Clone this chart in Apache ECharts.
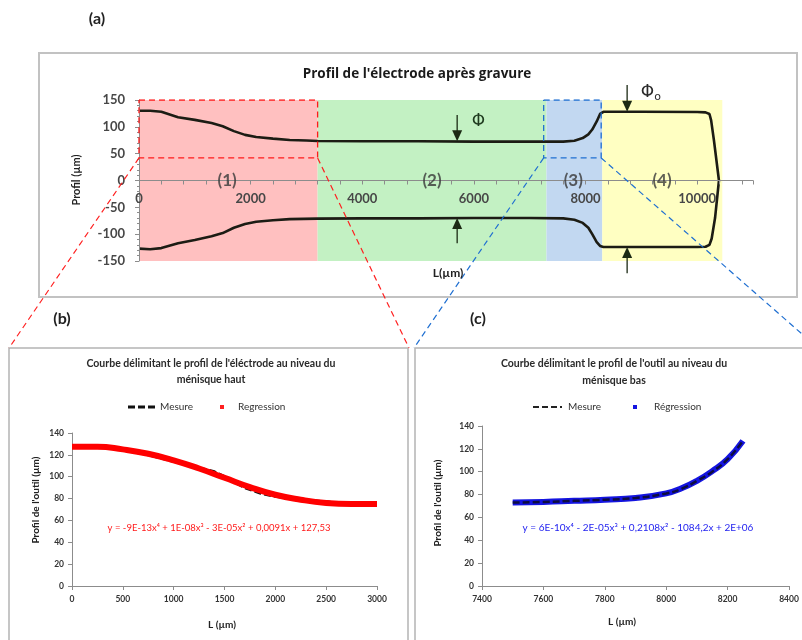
<!DOCTYPE html>
<html>
<head>
<meta charset="utf-8">
<script src="https://cdn.jsdelivr.net/npm/echarts@6/dist/echarts.min.js"></script>
<style>
html, body { margin: 0; background: #fff; }
#main { width: 802px; height: 640px; }
</style>
</head>
<body>
<div id="main"></div>
<script>
var FONT = 'Lato, "Open Sans", sans-serif';

// (a) profil complet de l'électrode, L (µm) / profil (µm)
var profilHaut = [[0,130],[200,130],[400,128],[700,118],[1000,113],[1300,107],[1500,101],[1700,92],[1900,85],
  [2100,81],[2400,78],[2700,75.5],[3000,74.5],[3200,73.5],[4000,73],[5000,73],[6000,72.5],[7000,72.5],[7600,72.5],
  [7800,74],[7950,79],[8050,86],[8120,95],[8200,110],[8260,124],[8320,128],[9000,128],[10000,127.5],
  [10150,127],[10220,124],[10250,112],[10300,75],[10390,0]];
var profilBas = [[0,-127],[200,-128],[400,-126],[700,-117],[1000,-111],[1300,-104],[1500,-98],[1700,-88],[1900,-81],
  [2100,-77],[2400,-74],[2700,-72],[3200,-71],[4000,-70.5],[5000,-70.5],[6000,-70],[7000,-70],[7600,-70.5],
  [7800,-73],[7950,-79],[8050,-88],[8120,-100],[8200,-115],[8260,-122],[8320,-124],[9000,-124],[10000,-124],
  [10150,-123.5],[10220,-120],[10260,-108],[10320,-70],[10390,0]];
var zonesDebut = [0, 3200, 7300, 8300];
var zonesFin = [3200, 7300, 8300, 10450];
var zonesNoms = ['(1)', '(2)', '(3)', '(4)'];
var zonesNomsX = [1580, 5250, 7780, 9370];
var cadreHaut = [[0,150],[3200,150],[3200,42],[0,42],[0,150]];
var cadreBas = [[7250,150],[8280,150],[8280,42],[7250,42],[7250,150]];
// flèches Φ et Φo : [L, départ, arrivée]
var fleches = [[5700,122,73],[5700,-117,-70],[8745,178,128],[8745,-173,-124]];

// (b) ménisque haut
var mesureB = [[0,127],[300,127.5],[500,125],[750,120],[1000,114],[1250,108],[1400,104.5],[1500,100],
  [1700,90],[1850,85],[2000,82],[2250,79],[2500,77],[2750,75],[3000,74.5]];
var regressionB = [[0,127.5],[250,127.5],[500,125],[750,121],[1000,115],[1250,107.5],[1500,99],
  [1750,90.5],[2000,83.5],[2250,79],[2500,76],[2750,75],[3000,75]];

// (c) ménisque bas
var mesureC = [[7500,73],[7600,73.5],[7700,74.5],[7800,75.5],[7900,77],[8000,81],[8050,85],
  [8100,92],[8150,100],[8200,111],[8250,127]];
var regressionC = [[7500,73],[7600,73.5],[7700,74.5],[7800,75.5],[7900,77],[8000,81],[8050,85.5],
  [8100,92],[8150,100.5],[8200,111],[8250,127]];

var zoneCouleurs = ['#ffc0c0', '#c3f1c3', '#c2d8f1', '#ffffc2'];

var chart = echarts.init(document.getElementById('main'));

function brut(v) { return String(v); }

function axeX(grid, min, max, interval, extra) {
  var ax = {
    gridIndex: grid, type: 'value', min: min, max: max, interval: interval,
    axisLine: { show: true, onZero: false, lineStyle: { color: '#8c8c8c' } },
    axisTick: { show: true, length: 4, lineStyle: { color: '#8c8c8c' } },
    axisLabel: { fontSize: 8.5, margin: 9, color: '#333', fontWeight: 'bold', fontFamily: FONT, formatter: brut },
    splitLine: { show: false }
  };
  return echarts.util.merge(ax, extra || {}, true);
}
function axeY(grid, min, max, interval, extra) {
  var ax = {
    gridIndex: grid, type: 'value', min: min, max: max, interval: interval,
    axisLine: { show: true, onZero: false, lineStyle: { color: '#8c8c8c' } },
    axisTick: { show: true, length: 4, lineStyle: { color: '#8c8c8c' } },
    axisLabel: { fontSize: 8.5, margin: 8, color: '#333', fontWeight: 'bold', fontFamily: FONT, formatter: brut },
    splitLine: { show: false }
  };
  return echarts.util.merge(ax, extra || {}, true);
}

var zonesArea = zonesDebut.map(function (d, i) {
  return [{ coord: [d, -150], itemStyle: { color: zoneCouleurs[i] } }, { coord: [zonesFin[i], 150] }];
});

chart.setOption({
  animation: false,
  grid: [
    { left: 139, top: 100, width: 614, height: 161 },
    { left: 72, top: 433, width: 305, height: 153 },
    { left: 482, top: 426, width: 307, height: 160 }
  ],
  xAxis: [
    axeX(0, 0, 11000, 400, {
      offset: -80.5, z: 5,
      axisLabel: {
        fontSize: 13, margin: 12, color: '#474747',
        formatter: function (v) { return (v % 2000 === 0 && v <= 10000) ? String(v) : ''; }
      }
    }),
    axeX(1, 0, 3000, 500),
    axeX(2, 7400, 8400, 200)
  ],
  yAxis: [
    axeY(0, -150, 150, 50, {
      z: 5,
      axisLabel: { fontSize: 13, margin: 14, color: '#474747' },
      minorTick: { show: true, splitNumber: 5, length: 2, lineStyle: { color: '#8c8c8c' } }
    }),
    axeY(1, 0, 140, 20),
    axeY(2, 0, 140, 20)
  ],
  series: [
    {
      name: 'Profil haut', type: 'line', xAxisIndex: 0, yAxisIndex: 0, data: profilHaut,
      symbol: 'none', lineStyle: { color: '#1c1c14', width: 2.6 }, z: 3,
      markArea: { silent: true, data: zonesArea }
    },
    {
      name: 'Profil bas', type: 'line', xAxisIndex: 0, yAxisIndex: 0, data: profilBas,
      symbol: 'none', lineStyle: { color: '#1c1c14', width: 2.6 }, z: 3
    },
    {
      name: 'Cadre (b)', type: 'line', xAxisIndex: 0, yAxisIndex: 0, data: cadreHaut, symbol: 'none',
      lineStyle: { color: '#ff1a1a', width: 1.3, type: [6, 4] }, z: 6
    },
    {
      name: 'Cadre (c)', type: 'line', xAxisIndex: 0, yAxisIndex: 0, data: cadreBas, symbol: 'none',
      lineStyle: { color: '#1f6fd1', width: 1.3, type: [6, 4] }, z: 6
    },
    {
      name: 'Zones', type: 'scatter', xAxisIndex: 0, yAxisIndex: 0, symbolSize: 1, z: 7,
      itemStyle: { color: 'transparent' },
      data: zonesNoms.map(function (n, i) { return { name: n, value: [zonesNomsX[i], 0] }; }),
      label: {
        show: true, position: 'inside', formatter: '{b}', fontSize: 17, fontWeight: 'bold',
        color: '#383838', fontFamily: FONT
      }
    },
    {
      name: 'Mesure', type: 'line', xAxisIndex: 1, yAxisIndex: 1, data: mesureB, symbol: 'none',
      lineStyle: { color: '#111', width: 3, type: [7, 3] }, z: 2
    },
    {
      name: 'Regression', type: 'line', xAxisIndex: 1, yAxisIndex: 1, data: regressionB, symbol: 'none',
      smooth: true, lineStyle: { color: '#ff0000', width: 6 }, z: 3
    },
    {
      name: 'Régression', type: 'line', xAxisIndex: 2, yAxisIndex: 2, data: regressionC, symbol: 'none',
      smooth: true, lineStyle: { color: '#1414e0', width: 6 }, z: 2
    },
    {
      name: 'Mesure', type: 'line', xAxisIndex: 2, yAxisIndex: 2, data: mesureC, symbol: 'none',
      smooth: true, lineStyle: { color: '#0d0d40', width: 2.5, type: [7, 3] }, z: 3
    }
  ]
});

function px(p) { return chart.convertToPixel({ xAxisIndex: 0, yAxisIndex: 0 }, p); }

function texte(x, y, t, size, extra) {
  var st = {
    x: x, y: y, text: t, fontSize: size, fontFamily: FONT, fontWeight: 'bold',
    fill: '#222', textAlign: 'center', textVerticalAlign: 'middle'
  };
  for (var k in (extra || {})) st[k] = extra[k];
  return { type: 'text', silent: true, style: st, z: 50 };
}
function texteVertical(x, y, t, size) {
  var el = texte(0, 0, t, size, { fill: '#222' });
  el.rotation = Math.PI / 2; el.x = x; el.y = y;
  return el;
}

var g = [];
// cadres des trois panneaux
g.push({ type: 'rect', shape: { x: 39, y: 53, width: 758, height: 244 },
  style: { fill: 'none', stroke: '#c2c2c2', lineWidth: 2 }, z: 1 });
g.push({ type: 'polyline', shape: { points: [[9, 660], [9, 348], [408, 348], [408, 660]] },
  style: { fill: 'none', stroke: '#b4b4b4', lineWidth: 1.5 }, z: 1 });
g.push({ type: 'polyline', shape: { points: [[415, 660], [415, 348], [830, 348]] },
  style: { fill: 'none', stroke: '#b4b4b4', lineWidth: 1.5 }, z: 1 });

// lignes de zoom
var bg = px([0, 42]), bd = px([3200, 42]), cg = px([7250, 42]), cd = px([8280, 42]);
[[bg, [9, 348], '#ff2020'], [bd, [409, 348], '#ff2020'], [cg, [414, 348], '#1f6fd1'], [cd, [818, 348], '#1f6fd1']]
  .forEach(function (l) {
    g.push({ type: 'line', silent: true, z: 40,
      shape: { x1: l[0][0], y1: l[0][1], x2: l[1][0], y2: l[1][1] },
      style: { stroke: l[2], lineWidth: 1.2, lineDash: [6, 4] } });
  });

// flèches
fleches.forEach(function (f) {
  var a = px([f[0], f[1]]), b = px([f[0], f[2]]);
  var dir = b[1] > a[1] ? 1 : -1;
  g.push({ type: 'line', silent: true, z: 40, shape: { x1: a[0], y1: a[1], x2: b[0], y2: b[1] - dir * 6 },
    style: { stroke: '#1c2a14', lineWidth: 1.3 } });
  g.push({ type: 'polygon', silent: true, z: 40,
    shape: { points: [[b[0], b[1]], [b[0] - 5, b[1] - dir * 11], [b[0] + 5, b[1] - dir * 11]] },
    style: { fill: '#1c2a14' } });
});
var phi = px([6080, 109]), phi0 = px([9170, 163]);
g.push(texte(phi[0], phi[1], 'Φ', 17, { fontWeight: 'normal', fill: '#1e3a1e', fontFamily: '"DejaVu Sans", sans-serif' }));
g.push({ type: 'text', silent: true, z: 50, style: {
  x: phi0[0], y: phi0[1], text: '{a|Φ}{b|o}', textAlign: 'center', textVerticalAlign: 'middle',
  rich: {
    a: { fontSize: 17, fill: '#2a2a2a', fontFamily: '"DejaVu Sans", sans-serif' },
    b: { fontSize: 11, fill: '#2a2a2a', fontFamily: '"DejaVu Sans", sans-serif', padding: [8, 0, 0, 0] }
  } } });

// lettres des panneaux
g.push(texte(97, 19, '(a)', 16));
g.push(texte(62, 319, '(b)', 16));
g.push(texte(478, 319, '(c)', 16));

// panneau (a)
g.push(texte(417, 74, "Profil de l'électrode après gravure", 13.5, { fill: '#1a1a1a', fontFamily: '"Open Sans", Lato, sans-serif' }));
g.push(texteVertical(76, 180, 'Profil (µm)', 11));
g.push(texte(448, 273, 'L(µm)', 12, { fill: '#222' }));

// panneau (b)
g.push(texte(211, 372, "Courbe délimitant le profil de l'éléctrode au niveau du\nménisque haut", 10.5,
  { fill: '#2a2a2a', lineHeight: 16 }));
g.push({ type: 'line', silent: true, z: 50, shape: { x1: 128, y1: 407, x2: 156, y2: 407 },
  style: { stroke: '#111', lineWidth: 3, lineDash: [7, 3] } });
g.push(texte(160, 407, 'Mesure', 10, { textAlign: 'left', fontWeight: 'normal', fill: '#333' }));
g.push({ type: 'rect', silent: true, z: 50, shape: { x: 220, y: 405, width: 4, height: 4 }, style: { fill: '#ff2020' } });
g.push(texte(238, 407, 'Regression', 10, { textAlign: 'left', fontWeight: 'normal', fill: '#333' }));
g.push(texte(219, 528, 'y = -9E-13x⁴ + 1E-08x³ - 3E-05x² + 0,0091x + 127,53', 9.5,
  { fontWeight: 'normal', fill: '#ff1a1a' }));
g.push(texteVertical(36, 500, "Profil de l'outil (µm)", 10));
g.push(texte(222, 625, 'L (µm)', 10, { fill: '#222' }));

// panneau (c)
g.push(texte(614, 372, "Courbe délimitant le profil de l'outil au niveau du\nménisque bas", 10.5,
  { fill: '#2a2a2a', lineHeight: 17 }));
g.push({ type: 'line', silent: true, z: 50, shape: { x1: 533, y1: 407, x2: 562, y2: 407 },
  style: { stroke: '#222', lineWidth: 2, lineDash: [6, 3] } });
g.push(texte(568, 407, 'Mesure', 10, { textAlign: 'left', fontWeight: 'normal', fill: '#333' }));
g.push({ type: 'rect', silent: true, z: 50, shape: { x: 633, y: 405, width: 4, height: 4 }, style: { fill: '#1414e0' } });
g.push(texte(654, 407, 'Régression', 10, { textAlign: 'left', fontWeight: 'normal', fill: '#333' }));
g.push(texte(638, 528, 'y = 6E-10x⁴ - 2E-05x³ + 0,2108x² - 1084,2x + 2E+06', 10,
  { fontWeight: 'normal', fill: '#2424f0' }));
g.push(texteVertical(438, 503, "Profil de l'outil (µm)", 10));
g.push(texte(622, 622, 'L (µm)', 10, { fill: '#222' }));

chart.setOption({ graphic: g });
</script>
</body>
</html>
